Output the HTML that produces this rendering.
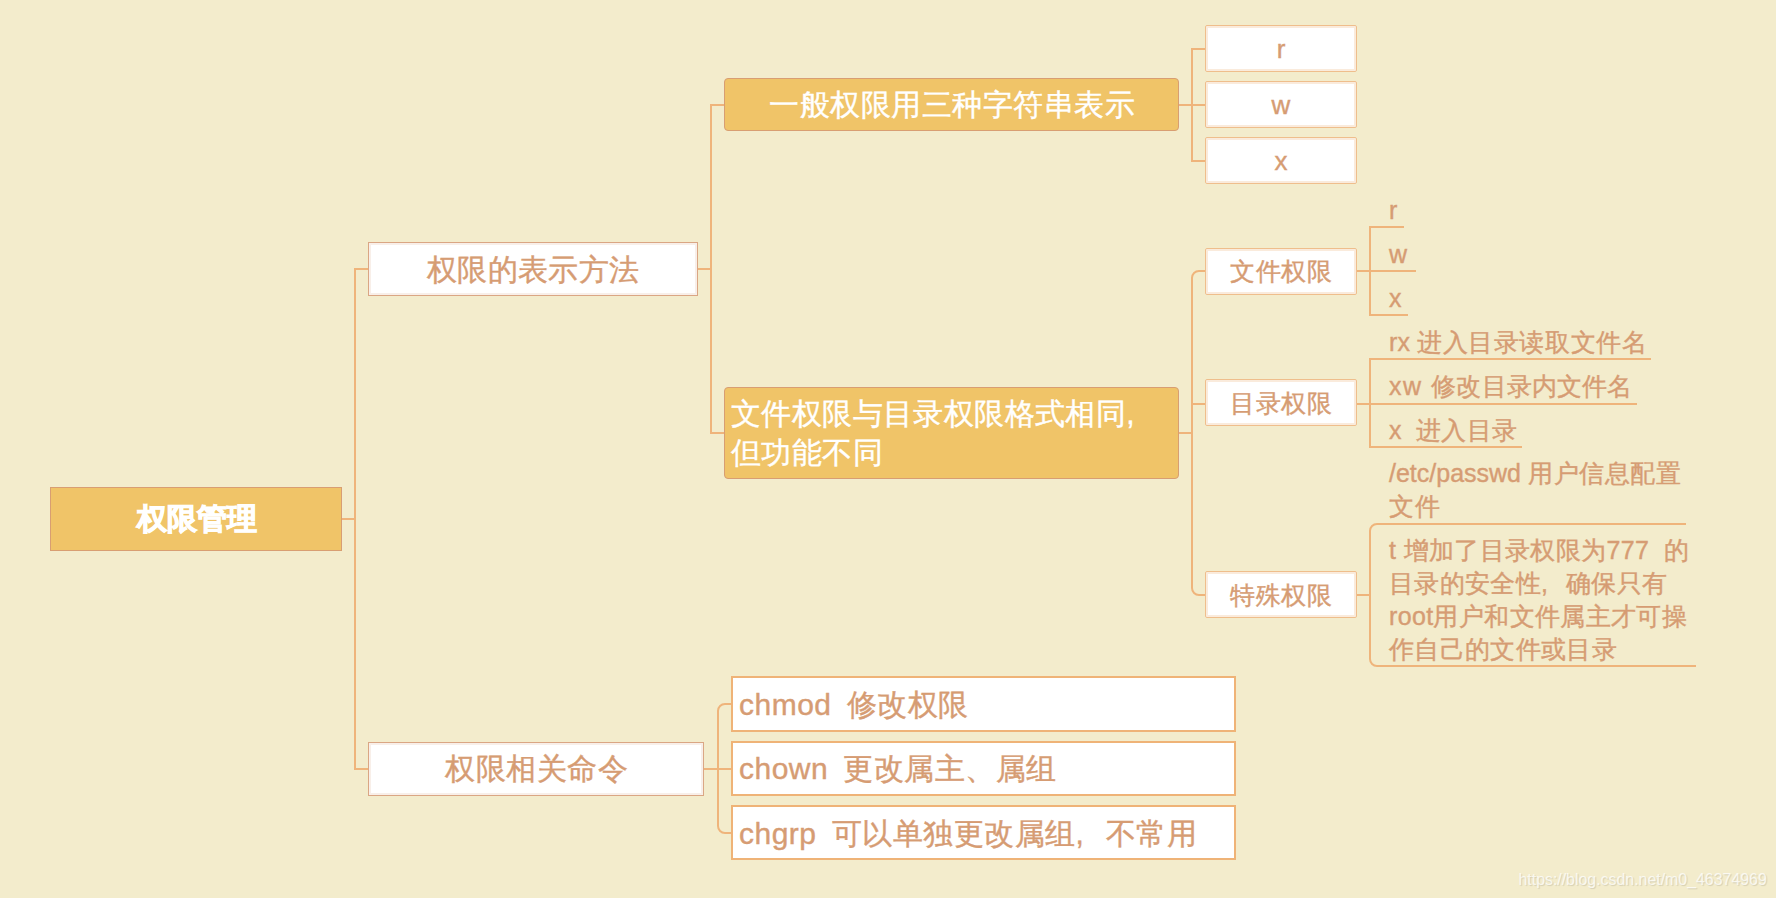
<!DOCTYPE html>
<html><head><meta charset="utf-8">
<style>
html,body{margin:0;padding:0;}
body{width:1776px;height:898px;background:#F3ECCC;position:relative;overflow:hidden;font-family:"Liberation Sans",sans-serif;}
.b{position:absolute;box-sizing:border-box;}
.t{position:absolute;white-space:nowrap;line-height:1;-webkit-text-stroke:0.4px currentColor;}
.ctr{text-align:center;}
.root{background:#F0C468;border:1px solid #D89E72;}
.n1{background:#fff;border:1px solid #DAA684;box-shadow:inset 0 0 0 2px rgba(218,166,132,0.18);}
.n2{background:#F0C468;border:1px solid #D89E72;border-radius:4px;}
.n3{background:#fff;border:1px solid #EFBE8C;border-radius:2px;box-shadow:inset 0 0 0 2px rgba(239,190,140,0.3);}
.n4{background:#fff;border:2px solid #EFB377;}
.c{color:#D69C73;}
.w{color:#fff;}
.cm{display:inline-block;text-align:left;}
svg{position:absolute;left:0;top:0;}
</style></head><body>
<svg width="1776" height="898" viewBox="0 0 1776 898">
<g fill="none" stroke="#EFB47B" stroke-width="2">
<path d="M342 519H355"/>
<path d="M368 269H355V769H368"/>
<path d="M697 269H711"/>
<path d="M725 105H711V433H725"/>
<path d="M1178 105H1192"/>
<path d="M1205 49H1192V161H1205"/>
<path d="M1192 105H1205"/>
<path d="M1178 433H1192"/>
<path d="M1205 271H1199A7 7 0 0 0 1192 278V588A7 7 0 0 0 1199 595H1205"/>
<path d="M1192 404H1205"/>
<path d="M1356 271H1416"/>
<path d="M1404 227H1370V315H1408"/>
<path d="M1356 404H1637"/>
<path d="M1651 359H1370V447H1522"/>
<path d="M1356 595H1370"/>
<path d="M1686 524H1377A7 7 0 0 0 1370 531V659A7 7 0 0 0 1377 666H1696"/>
<path d="M703 769H731"/>
<path d="M731 704H725A7 7 0 0 0 718 711V826A7 7 0 0 0 725 833H731"/>
</g>
</svg>

<div class="b root" style="left:50px;top:487px;width:292px;height:64px;"></div>
<div class="t w ctr" style="left:50px;width:293px;top:504px;font-size:30px;font-weight:bold;-webkit-text-stroke:1px #fff;">权限管理</div>

<div class="b n1" style="left:368px;top:242px;width:330px;height:54px;"></div>
<div class="t c" style="left:427px;top:255px;font-size:30px;letter-spacing:0.33px;">权限的表示方法</div>

<div class="b n1" style="left:368px;top:742px;width:336px;height:54px;"></div>
<div class="t c" style="left:445px;top:754px;font-size:30px;letter-spacing:0.6px;">权限相关命令</div>

<div class="b n2" style="left:724px;top:78px;width:455px;height:53px;"></div>
<div class="t w" style="left:769px;top:90px;font-size:30px;letter-spacing:0.55px;">一般权限用三种字符串表示</div>

<div class="b n2" style="left:724px;top:387px;width:455px;height:92px;"></div>
<div class="t w" style="left:731px;top:395px;font-size:30px;letter-spacing:0.4px;line-height:38.6px;">文件权限与目录权限格式相同<span class="cm" style="width:30px">,</span><br>但功能不同</div>

<div class="b n3" style="left:1205px;top:25px;width:152px;height:47px;"></div>
<div class="t c ctr" style="left:1205px;width:152px;top:36px;font-size:26px;">r</div>
<div class="b n3" style="left:1205px;top:81px;width:152px;height:47px;"></div>
<div class="t c ctr" style="left:1205px;width:152px;top:92px;font-size:26px;">w</div>
<div class="b n3" style="left:1205px;top:137px;width:152px;height:47px;"></div>
<div class="t c ctr" style="left:1205px;width:152px;top:148px;font-size:26px;">x</div>

<div class="b n3" style="left:1205px;top:248px;width:152px;height:47px;"></div>
<div class="t c ctr" style="left:1205px;width:152px;top:259px;font-size:25px;letter-spacing:0.9px;text-indent:0.9px;">文件权限</div>
<div class="b n3" style="left:1205px;top:379px;width:152px;height:47px;"></div>
<div class="t c ctr" style="left:1205px;width:152px;top:391px;font-size:25px;letter-spacing:0.9px;text-indent:0.9px;">目录权限</div>
<div class="b n3" style="left:1205px;top:571px;width:152px;height:47px;"></div>
<div class="t c ctr" style="left:1205px;width:152px;top:583px;font-size:25px;letter-spacing:0.9px;text-indent:0.9px;">特殊权限</div>

<div class="t c" style="left:1389px;top:198px;font-size:25px;">r</div>
<div class="t c" style="left:1389px;top:242px;font-size:25px;">w</div>
<div class="t c" style="left:1389px;top:286px;font-size:25px;">x</div>

<div class="t c" style="left:1389px;top:330px;font-size:25px;letter-spacing:0.6px;"><span style="letter-spacing:0.1px">rx </span>进入目录读取文件名</div>
<div class="t c" style="left:1389px;top:374px;font-size:25px;letter-spacing:0.6px;"><span style="letter-spacing:1.6px">xw </span><span style="letter-spacing:0.15px">修改目录内文件名</span></div>
<div class="t c" style="left:1389px;top:418px;font-size:25px;letter-spacing:0.6px;">x<span class="cm" style="width:13.5px"></span>进入目录</div>

<div class="t c" style="left:1389px;top:457px;font-size:25px;line-height:33px;"><span style="letter-spacing:0px">/etc/passwd</span> <span style="letter-spacing:0.6px">用户信息配置</span><br><span style="letter-spacing:0.6px">文件</span></div>
<div class="t c" style="left:1389px;top:533.5px;font-size:25px;letter-spacing:0.35px;line-height:33px;">t 增加了目录权限为777&nbsp; 的<br>目录的安全性<span class="cm" style="width:25px">,</span>确保只有<br>root用户和文件属主才可操<br>作自己的文件或目录</div>

<div class="b n4" style="left:731px;top:676px;width:505px;height:56px;"></div>
<div class="t c" style="left:739px;top:690px;font-size:30px;letter-spacing:0.5px;">chmod<span class="cm" style="width:15px"></span>修改权限</div>
<div class="b n4" style="left:731px;top:741px;width:505px;height:55px;"></div>
<div class="t c" style="left:739px;top:754px;font-size:30px;letter-spacing:0.5px;">chown<span class="cm" style="width:15px"></span>更改属主、属组</div>
<div class="b n4" style="left:731px;top:805px;width:505px;height:55px;"></div>
<div class="t c" style="left:739px;top:819px;font-size:30px;letter-spacing:0.5px;">chgrp<span class="cm" style="width:15px"></span>可以单独更改属组<span class="cm" style="width:30px">,</span>不常用</div>

<div class="t" style="left:1518.5px;top:872px;font-size:16px;letter-spacing:-0.05px;-webkit-text-stroke:0;color:rgba(255,255,255,0.75);text-shadow:1px 1px 1px rgba(0,0,0,0.12);">https://blog.csdn.net/m0_46374969</div>
</body></html>
